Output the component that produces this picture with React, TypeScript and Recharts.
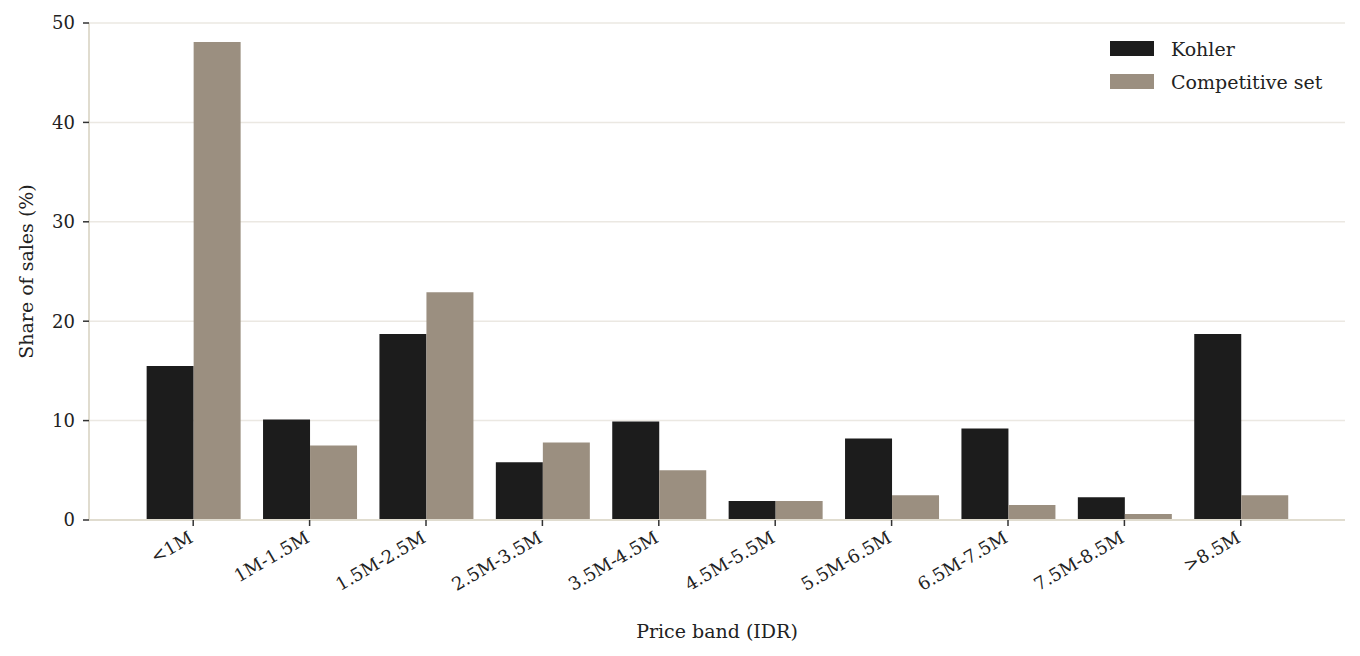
import React from "react";
import { BarChart, Bar, XAxis, YAxis, CartesianGrid } from "recharts";

const categories = ["<1M", "1M-1.5M", "1.5M-2.5M", "2.5M-3.5M", "3.5M-4.5M", "4.5M-5.5M", "5.5M-6.5M", "6.5M-7.5M", "7.5M-8.5M", ">8.5M"];
const kohler = [15.5, 10.1, 18.7, 5.8, 9.9, 1.9, 8.2, 9.2, 2.3, 18.7];
const competitive = [48.1, 7.5, 22.9, 7.8, 5.0, 1.9, 2.5, 1.5, 0.6, 2.5];
const yTicks = [0, 10, 20, 30, 40, 50];
const seriesNames = ["Kohler", "Competitive set"];

const data = categories.map((c, i) => ({ band: c, kohler: kohler[i], competitive: competitive[i] }));

const FONT = "'DejaVu Serif', Georgia, serif";
const TEXT = "#222";
const BLACK = "#1c1c1c";
const TAUPE = "#9b8f80";

const XTick = (props: any) => {
  const { x, y, payload } = props;
  return (
    <g transform={`translate(${x - 2},${y + 8})`}>
      <text x={0} y={0} dy={6} textAnchor="end" transform="rotate(-30)" fontFamily={FONT} fontSize={18} fill={TEXT}>
        {payload.value}
      </text>
    </g>
  );
};

const LegendBox = () => {
  const items = [
    { label: seriesNames[0], color: BLACK },
    { label: seriesNames[1], color: TAUPE },
  ];
  return (
    <div style={{ position: "absolute", left: 1110, top: 32, fontFamily: FONT, fontSize: 19, color: TEXT }}>
      {items.map((it) => (
        <div key={it.label} style={{ display: "flex", alignItems: "center", height: 33, whiteSpace: "nowrap" }}>
          <div style={{ width: 44, height: 15, background: it.color, marginRight: 17 }} />
          <span>{it.label}</span>
        </div>
      ))}
    </div>
  );
};

export default function App() {
  return (
    <div style={{ position: "absolute", left: 0, top: 0, width: 1360, height: 656, background: "#fff" }}>
      <BarChart
        width={1360}
        height={656}
        data={data}
        margin={{ top: 23, right: 15, left: 29, bottom: 18 }}
        barCategoryGap="10%"
        barGap={0}
      >
        <CartesianGrid vertical={false} stroke="#ebe8e2" strokeWidth={1.5} />
        <XAxis
          dataKey="band"
          height={118}
          padding={{ left: 46, right: 46 }}
          axisLine={{ stroke: "#e0dccf", strokeWidth: 2 }}
          tickLine={{ stroke: "#333", strokeWidth: 1.5 }}
          tickSize={6}
          interval={0}
          tick={<XTick />}
          label={{ value: "Price band (IDR)", position: "insideBottom", offset: 0, style: { fontFamily: FONT, fontSize: 19, fill: TEXT } }}
        />
        <YAxis
          width={60}
          domain={[0, 50]}
          ticks={yTicks}
          axisLine={{ stroke: "#e0dccf", strokeWidth: 2 }}
          tickLine={{ stroke: "#333", strokeWidth: 1.5 }}
          tickSize={6}
          tickMargin={8}
          tick={{ fontFamily: FONT, fontSize: 18, fill: TEXT }}
          label={{ value: "Share of sales (%)", angle: -90, position: "insideLeft", offset: -3, style: { fontFamily: FONT, fontSize: 19, fill: TEXT, textAnchor: "middle" } }}
        />
        <Bar dataKey="kohler" name={seriesNames[0]} fill={BLACK} isAnimationActive={false} />
        <Bar dataKey="competitive" name={seriesNames[1]} fill={TAUPE} isAnimationActive={false} />
      </BarChart>
      <LegendBox />
    </div>
  );
}
